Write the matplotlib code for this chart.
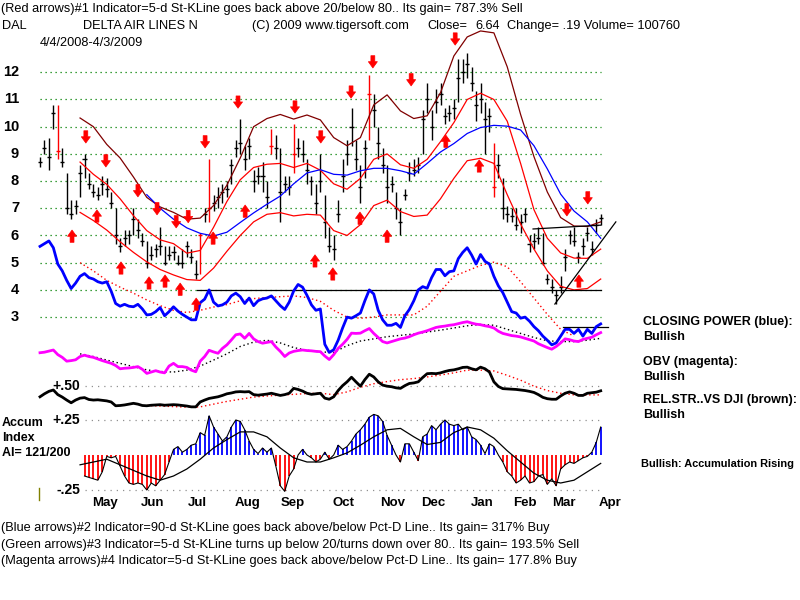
import matplotlib
matplotlib.use("Agg")
import matplotlib.pyplot as plt
from matplotlib.lines import Line2D
import numpy as np

nan = float("nan")

# ---------------- data (one bar = 2 trading days, 4/4/2008 - 4/3/2009) ----------------
close = [8.7, 9.2, 8.9, 10.5, 9.1, 8.7, 7.0, 6.8, 7.1, 8.3, 8.8, 7.9, 7.6, 7.5, 7.9, 7.7, 7.2, 6.0, 5.6, 5.9,
         6.0, 6.6, 6.2, 5.8, 5.0, 5.3, 5.5, 5.6, 5.0, 5.3, 5.4, 5.0, 5.0, 5.6, 5.2, 4.6, 6.0, 6.8, 7.0, 7.2,
         7.4, 7.6, 7.7, 8.6, 9.2, 9.4, 8.8, 9.3, 8.0, 8.2, 8.2, 7.4, 9.3, 9.2, 7.6, 7.9, 7.8, 9.0, 9.2, 9.0,
         8.4, 8.0, 7.2, 8.0, 6.5, 5.6, 5.5, 6.8, 8.2, 9.0, 10.0, 8.8, 7.8, 9.2, 11.2, 10.6, 9.4, 8.6, 7.8, 7.9,
         7.0, 6.5, 7.5, 8.3, 8.4, 8.6, 10.3, 11.0, 10.0, 10.9, 11.2, 10.4, 10.5, 10.7, 11.8, 12.0, 12.3, 11.6, 10.8, 11.0,
         10.3, 10.4, 7.8, 8.6, 7.0, 6.8, 6.7, 6.4, 6.5, 6.8, 5.7, 5.8, 5.9, 5.0, 4.4, 4.1, 3.8, 4.1, 5.2, 6.0,
         5.8, 5.2, 5.6, 6.1, 5.5, 6.4, 6.64]
high = [8.9, 9.5, 9.6, 10.8, 10.8, 9.2, 8.3, 7.3, 7.3, 8.6, 9.0, 8.3, 7.9, 7.8, 8.2, 8.1, 7.6, 7.0, 5.9, 6.2,
        6.2, 7.0, 6.6, 6.1, 5.8, 5.6, 5.7, 6.3, 5.6, 5.6, 5.6, 5.3, 5.5, 5.8, 5.5, 5.1, 6.1, 7.0, 8.8, 7.5,
        7.8, 7.9, 8.0, 8.8, 9.5, 10.3, 9.3, 9.6, 8.4, 8.5, 8.7, 8.0, 9.9, 9.7, 9.2, 8.2, 8.2, 10.1, 9.6, 9.5,
        8.8, 8.2, 7.9, 9.0, 7.5, 6.3, 6.0, 7.3, 8.8, 9.5, 10.7, 9.5, 8.6, 9.5, 11.9, 11.2, 10.0, 9.2, 8.6, 8.2,
        7.6, 7.0, 7.7, 8.7, 8.8, 8.9, 10.6, 11.6, 10.6, 11.4, 11.6, 10.7, 10.8, 11.0, 12.5, 12.5, 12.7, 12.2, 11.3, 11.6,
        10.9, 10.7, 9.4, 9.0, 8.1, 7.1, 7.0, 7.0, 6.8, 7.0, 6.0, 6.1, 6.3, 6.1, 4.6, 4.4, 4.0, 4.5, 5.5, 6.2,
        6.3, 5.4, 5.9, 6.3, 5.8, 6.6, 6.8]
low = [8.5, 9.0, 8.4, 9.9, 8.8, 8.5, 6.8, 6.6, 6.8, 7.4, 8.1, 7.7, 7.4, 7.3, 7.5, 7.4, 7.0, 5.7, 5.4, 5.6,
       5.7, 6.0, 5.9, 5.6, 4.8, 5.1, 5.2, 5.3, 4.9, 5.1, 5.1, 4.9, 4.8, 5.2, 5.0, 4.4, 4.6, 6.5, 6.5, 6.9,
       7.0, 7.2, 7.4, 7.9, 8.9, 9.0, 8.4, 8.8, 7.6, 7.9, 7.6, 7.0, 9.0, 8.8, 6.5, 7.6, 7.5, 8.3, 8.9, 8.7,
       7.9, 7.5, 6.8, 7.6, 5.9, 5.4, 5.1, 6.5, 7.6, 8.6, 9.3, 8.4, 7.2, 8.1, 9.5, 10.0, 8.8, 8.3, 7.2, 7.6,
       6.6, 6.0, 7.3, 8.0, 8.2, 8.3, 9.0, 10.5, 9.5, 10.5, 10.8, 10.1, 10.2, 10.3, 10.9, 11.6, 11.8, 11.3, 10.2, 10.5,
       9.0, 9.8, 7.4, 8.1, 6.6, 6.5, 6.5, 6.2, 6.1, 6.5, 5.4, 5.5, 5.7, 4.9, 4.2, 3.9, 3.5, 3.9, 4.7, 5.7,
       5.6, 5.0, 5.3, 5.8, 5.3, 6.1, 6.4]
red_bars = [4, 36, 38, 52, 57, 74, 102]

# closing power (blue), OBV (magenta), relative strength (black), drawn in the price frame
closing_power = [5.6, 5.7, 5.8, 5.55, 4.95, 4.7, 4.35, 4.05, 4.25, 4.5, 4.6, 4.45, 4.4, 4.3, 4.25, 4.3, 3.95, 3.5, 3.4, 3.47,
                 3.4, 3.38, 3.47, 3.3, 3.08, 3.1, 3.2, 3.35, 3.05, 3.2, 3.38, 3.22, 3.1, 3.0, 2.9, 2.9, 3.53, 3.66, 4.0, 3.55,
                 3.41, 3.45, 3.55, 3.78, 3.88, 3.75, 3.5, 3.7, 3.42, 3.6, 3.67, 3.7, 3.78, 3.6, 3.42, 3.28, 3.55, 3.96, 4.2, 4.1,
                 3.8, 3.45, 3.25, 3.3, 2.0, 1.7, 1.8, 2.15, 2.6, 3.0, 2.96, 3.05, 3.15, 3.6, 4.0, 3.85, 3.25, 2.9, 2.7, 2.7,
                 2.77, 2.62, 3.05, 3.28, 3.6, 4.0, 4.12, 4.06, 4.45, 4.75, 4.75, 4.52, 4.67, 4.7, 5.15, 5.38, 5.55, 5.28, 4.95, 5.3,
                 5.05, 4.95, 4.5, 4.15, 3.9, 3.55, 3.2, 3.15, 2.96, 3.0, 2.85, 2.65, 2.5, 2.3, 2.15, 1.98, 2.05, 2.3, 2.55, 2.55,
                 2.4, 2.55, 2.3, 2.55, 2.4, 2.65, 2.75]
obv = [1.69, 1.71, 1.75, 1.79, 1.62, 1.52, 1.38, 1.4, 1.43, 1.55, 1.6, 1.55, 1.52, 1.46, 1.4, 1.35, 1.3, 1.22, 1.1, 1.12,
       1.13, 1.15, 1.18, 1.08, 0.93, 0.98, 1.03, 0.98, 0.95, 1.2, 1.3, 1.18, 1.18, 1.15, 1.05, 0.99, 1.38, 1.55, 1.78, 1.72,
       1.67, 1.85, 1.98, 2.16, 2.35, 2.38, 2.22, 2.4, 2.2, 2.1, 2.04, 2.07, 2.1, 1.9, 1.74, 1.55, 1.68, 1.74, 1.77, 1.79,
       1.77, 1.76, 1.74, 1.73, 1.57, 1.44, 1.62, 1.85, 2.0, 2.18, 2.41, 2.4, 2.41, 2.5, 2.58, 2.4, 2.25, 2.1, 2.05, 2.1,
       2.15, 2.2, 2.23, 2.28, 2.35, 2.41, 2.45, 2.5, 2.56, 2.62, 2.65, 2.67, 2.7, 2.72, 2.76, 2.8, 2.83, 2.78, 2.74, 2.72,
       2.68, 2.65, 2.6, 2.48, 2.4, 2.36, 2.32, 2.3, 2.27, 2.22, 2.17, 2.12, 2.02, 1.95, 1.88, 1.82, 1.92, 2.05, 2.2, 2.17,
       2.12, 2.1, 2.18, 2.22, 2.26, 2.35, 2.43]
rel_strength = [0.07, 0.18, 0.27, 0.32, 0.15, 0.06, -0.05, -0.15, -0.05, 0.02, 0.04, -0.03, -0.05, -0.04, -0.06, -0.08, -0.12, -0.26, -0.25, -0.23,
                -0.2, -0.17, -0.2, -0.25, -0.26, -0.24, -0.23, -0.22, -0.24, -0.23, -0.22, -0.23, -0.25, -0.27, -0.3, -0.3, -0.12, -0.05, 0.01, 0.04,
                0.07, 0.12, 0.18, 0.21, 0.25, 0.26, 0.25, 0.26, 0.15, 0.13, 0.15, 0.17, 0.2, 0.16, 0.12, 0.15, 0.2, 0.38, 0.34, 0.28,
                0.2, 0.16, 0.18, 0.2, 0.02, -0.02, 0.07, 0.3, 0.48, 0.62, 0.79, 0.62, 0.46, 0.7, 0.9, 0.8, 0.62, 0.5, 0.46, 0.44,
                0.4, 0.38, 0.48, 0.56, 0.58, 0.62, 0.78, 0.92, 0.93, 0.92, 0.95, 1.0, 1.04, 1.06, 1.1, 1.15, 1.16, 1.1, 1.06, 1.16,
                1.1, 0.98, 0.62, 0.45, 0.37, 0.36, 0.35, 0.34, 0.32, 0.3, 0.27, 0.23, 0.15, 0.05, 0.0, -0.02, -0.02, 0.1, 0.2, 0.25,
                0.2, 0.12, 0.12, 0.2, 0.22, 0.24, 0.29]

# accumulation index (one value per bar)
accum = [nan] * 10 + [
    -0.15, -0.16, -0.17, -0.18, -0.12, -0.01, -0.02, -0.01, -0.08, -0.15,
    -0.20, -0.21, -0.20, -0.21, -0.25, -0.20, -0.22, -0.18, -0.14, -0.05,
    0.04, 0.06, 0.02, 0.04, 0.07, 0.08, 0.16, 0.14, 0.28, 0.20,
    0.15, 0.10, 0.13, 0.20, 0.25, 0.24, 0.18, 0.10, 0.04, 0.01,
    0.05, 0.02, 0.05, -0.08, -0.22, -0.26, -0.15, -0.10, 0.00, 0.04,
    0.00, -0.02, -0.05, -0.03, 0.02, -0.03, 0.00, 0.07, 0.04, 0.06,
    0.10, 0.15, 0.18, 0.22, 0.27, 0.29, 0.28, 0.24, 0.14, 0.07,
    0.00, -0.05, 0.08, 0.08, 0.02, -0.04, 0.13, 0.15, 0.21, 0.18,
    0.22, 0.25, 0.22, 0.21, 0.22, 0.18, 0.20, 0.13, 0.11, 0.07,
    0.01, 0.08, 0.06, 0.00, -0.05, -0.12, -0.15, -0.20, -0.18, -0.15,
    -0.20, -0.19, -0.15, -0.14, -0.21, -0.17, -0.22, -0.10, -0.07, -0.05,
    -0.06, -0.04, -0.02, -0.01, 0.02, 0.09, 0.20]

# smoothed lines, one value every 3 bars
upper_band = [nan, nan, nan, 8.70, 8.25, 7.88, 7.35, 6.73, 6.18, 5.84, 5.70, 5.35, 5.45, 6.30, 7.25, 8.05, 8.50, 8.62, 8.65, 8.50,
              8.65, 8.40, 7.90, 7.70, 8.10, 8.80, 9.00, 8.60, 8.47, 8.80, 9.45, 10.15, 11.00, 11.23, 11.00, 10.20, 8.65, 6.95, 5.90, 5.36,
              5.17, 5.16, 5.50]
lower_band = [nan, nan, nan, 6.85, 6.55, 6.20, 5.77, 5.38, 5.03, 4.75, 4.55, 4.38, 4.35, 4.80, 5.42, 6.00, 6.50, 6.78, 6.84, 6.72,
              6.78, 6.75, 6.18, 6.00, 6.40, 7.10, 7.30, 6.88, 6.70, 6.75, 7.35, 8.10, 8.75, 8.84, 8.65, 7.50, 6.42, 5.50, 4.70, 4.13,
              4.00, 4.05, 4.40]
outer_band = [nan, nan, nan, 10.32, 10.00, 9.35, 8.85, 8.15, 7.40, 7.05, 6.85, 6.60, 6.64, 7.10, 7.85, 8.85, 10.00, 10.30, 10.45, 10.28,
              10.43, 10.25, 9.60, 9.30, 9.60, 10.80, 11.17, 10.58, 10.30, 10.40, 11.25, 12.60, 13.30, 13.52, 13.45, 12.20, 10.45, 8.90, 7.60, 6.66,
              6.35, 6.33, 6.50]
ma_50 = [nan] * 8 + [7.50, 7.00, 6.60, 6.28, 6.08, 5.98, 6.12, 6.48, 6.83, 7.15, 7.45, 7.90, 8.30, 8.42, 8.25, 8.22, 8.38, 8.47,
                     8.47, 8.38, 8.25, 8.65, 9.07, 9.38, 9.75, 9.97, 10.05, 10.02, 9.88, 9.30, 8.45, 7.52, 6.90, 6.50, 5.90]
cp_ma = [nan, nan, nan, 5.00, 4.70, 4.35, 4.10, 3.88, 3.63, 3.42, 3.25, 3.17, 3.25, 3.37, 3.46, 3.60, 3.68, 3.72, 3.75, 3.78,
         3.72, 3.58, 3.25, 3.00, 2.96, 3.00, 3.08, 3.08, 3.08, 3.40, 3.95, 4.50, 4.70, 4.90, 5.02, 4.85, 4.30, 3.70, 3.10, 2.55,
         2.30, nan, nan]
obv_ma = [nan, nan, nan, 1.65, 1.55, 1.42, 1.30, 1.18, 1.06, 1.00, 0.98, 1.05, 1.20, 1.42, 1.65, 1.92, 2.08, 2.15, 2.05, 1.88,
          1.78, 1.72, 1.70, 1.95, 2.12, 2.20, 2.28, 2.33, 2.38, 2.45, 2.52, 2.60, 2.68, 2.73, 2.70, 2.55, 2.40, 2.25, 2.13, 2.10,
          2.10, 2.15, 2.22]
rs_ma = [nan] * 8 + [-0.25, -0.27, -0.29, -0.31, -0.30, -0.20, -0.10, -0.02, 0.06, 0.10, 0.13, 0.16, 0.19, 0.20, 0.15, 0.25, 0.42,
                     0.55, 0.63, 0.70, 0.74, 0.80, 0.87, 0.95, 1.05, 1.05, 1.02, 0.86, 0.68, 0.46, 0.30, 0.20, 0.14, 0.14, 0.14]
accum_ma = [nan, nan, nan, -0.07, -0.05, -0.03, -0.07, -0.11, -0.15, -0.18, -0.15, -0.10, -0.03, 0.05, 0.11, 0.165, 0.165, 0.13, 0.05, -0.02,
            -0.05, -0.05, -0.02, 0.015, 0.07, 0.13, 0.18, 0.19, 0.13, 0.075, 0.09, 0.16, 0.20, 0.18, 0.12, 0.03, -0.05, -0.13, -0.18, -0.20,
            -0.18, -0.12, -0.06]

# red signal arrows: bar position and arrow tip price
down_pos = [10.3, 14.8, 22.0, 26.3, 30.6, 33.3, 37.1, 44.5, 57.3, 63.1, 69.9, 74.8, 83.4, 93.3, 118.4, 123.1]
down_tip = [9.40, 8.52, 7.42, 6.76, 6.28, 6.47, 9.22, 10.68, 10.50, 9.40, 11.05, 12.16, 11.50, 13.00, 6.72, 7.16]
up_pos = [7.2, 12.8, 18.2, 24.5, 28.1, 31.5, 35.1, 38.9, 46.1, 61.8, 65.8, 71.9, 78.0, 91.2, 98.7, 121.1]
up_tip = [6.20, 6.94, 5.03, 4.48, 4.55, 4.25, 3.70, 6.13, 7.12, 5.29, 4.81, 6.86, 6.20, 9.69, 8.78, 4.55]

# hand drawn lines (bar position, price)
support_line = ([35.3, 126.0], [4.0, 4.0])
resist_line = ([110.8, 126.0], [6.24, 6.38])
rising_line = ([115.7, 129.4], [3.48, 6.50])
cp_line = ([117.5, 127.6], [2.64, 2.64])

price_levels = [3, 4, 5, 6, 7, 8, 9, 10, 11, 12]
month_names = ["May", "Jun", "Jul", "Aug", "Sep", "Oct", "Nov", "Dec", "Jan", "Feb", "Mar", "Apr"]
month_pos = [14.6, 25.2, 35.3, 46.7, 56.9, 68.1, 79.3, 88.3, 99.3, 109.0, 117.8, 128.1]

# ---------------- layout ----------------
W, H = 800.0, 600.0
X0, DX = 40.0, 4.45      # pixel of first bar, pixels per bar
Y12, DY = 72.3, 27.2     # pixel of price 12, pixels per price unit
AI0, AIS = 455.0, 140.0  # pixel of accum zero, pixels per accum unit

fig = plt.figure(figsize=(8, 6), dpi=100)
fig.patch.set_facecolor("white")


def px_axes(x0, y0, x1, y1):
    a = fig.add_axes([x0 / W, 1 - y1 / H, (x1 - x0) / W, (y1 - y0) / H])
    a.set_xlim((x0 - X0) / DX, (x1 - X0) / DX)
    a.axis("off")
    return a


ax = px_axes(38, 20, 640, 415)
ax.set_ylim(12 - (415 - Y12) / DY, 12 + (Y12 - 20) / DY)
ai = px_axes(38, 405, 640, 505)
ai.set_ylim(-(505 - AI0) / AIS, (AI0 - 405) / AIS)

bars = np.arange(len(close))
sk = np.arange(0, len(close), 3)

FONT = ["Liberation Sans", "DejaVu Sans"]

# grid
ax.hlines(price_levels, 0, bars[-1], colors="#008000", linestyles=(0, (1, 3)), lw=0.9)
ax.hlines([0.47], 10, bars[-1], colors="#909090", linestyles=(0, (1, 4)), lw=0.9)
ai.hlines([0.25, -0.25], 10, bars[-1], colors="#909090", linestyles=(0, (1, 4)), lw=0.9)
for p in price_levels:
    ax.text((19 - X0) / DX, p, str(p), ha="right", va="center", fontsize=10.5,
            fontweight="bold", family=FONT)

# price bars
cols = ["red" if i in red_bars else "black" for i in bars]
ax.vlines(bars, low, high, colors=cols, lw=1.0)
ax.hlines(close, bars - 0.45, bars + 0.45, colors=cols, lw=1.0)

# bands and average
ax.plot(sk, outer_band, color="#800000", lw=0.9)
ax.plot(sk, upper_band, color="#ff0000", lw=0.9)
ax.plot(sk, lower_band, color="#ff0000", lw=0.9)
ax.plot(sk, ma_50, color="#0000ff", lw=0.9)

# drawn lines
for xs, ys in (support_line, resist_line, rising_line, cp_line):
    ax.plot(xs, ys, color="black", lw=0.9)

# indicators
ax.plot(sk, cp_ma, color="#ff0000", lw=1.0, ls=(0, (1, 2)))
ax.plot(sk, obv_ma, color="black", lw=1.0, ls=(0, (1, 2)))
ax.plot(sk, rs_ma, color="#ff0000", lw=1.0, ls=(0, (1, 2)))
ax.plot(bars, closing_power, color="#0000ff", lw=2.0)
ax.plot(bars, obv, color="#ff00ff", lw=2.0)
ax.plot(bars, rel_strength, color="black", lw=2.0)

# arrows
astyle = "simple,head_length=0.45,head_width=0.65,tail_width=0.28"
for x, t in zip(down_pos, down_tip):
    ax.annotate("", xy=(x, t), xytext=(x, t + 0.45),
                arrowprops=dict(arrowstyle=astyle, fc="red", ec="red", lw=0.5,
                                shrinkA=0, shrinkB=0, mutation_scale=10))
for x, t in zip(up_pos, up_tip):
    ax.annotate("", xy=(x, t), xytext=(x, t - 0.45),
                arrowprops=dict(arrowstyle=astyle, fc="red", ec="red", lw=0.5,
                                shrinkA=0, shrinkB=0, mutation_scale=10))

# accumulation index
acc = np.array(accum)
ai.vlines(bars, 0, acc, colors=np.where(acc >= 0, "#0000ff", "#ff0000"), lw=1.3)
ai.plot(bars, acc, color="black", lw=0.8)
ai.plot(sk, accum_ma, color="black", lw=0.9)
for x, n in zip(month_pos, month_names):
    ai.text(x, -(503 - AI0) / AIS, n, ha="center", va="center", fontsize=9.5,
            fontweight="bold", family=FONT)
ai.text((80 - X0) / DX, 0.25, "+.25", ha="right", va="center", fontsize=10, fontweight="bold", family=FONT)
ai.text((80 - X0) / DX, -0.25, "-.25", ha="right", va="center", fontsize=10, fontweight="bold", family=FONT)
ax.text((80 - X0) / DX, 0.47, "+.50", ha="right", va="center", fontsize=10, fontweight="bold", family=FONT)

fig.add_artist(Line2D([39 / W, 39 / W], [1 - 488 / H, 1 - 500 / H], color="#808000", lw=1))


def ftext(x, y, s, **kw):
    fig.text(x / W, 1 - y / H, s, va="center", ha="left", **kw)


hdr = dict(fontsize=9.2, family=FONT)
ftext(1, 9, "(Red arrows)#1 Indicator=5-d St-KLine goes back above 20/below 80.. Its gain= 787.3% Sell", **hdr)
ftext(2, 26, "DAL", **hdr)
ftext(83, 26, "DELTA AIR LINES N", **hdr)
ftext(252, 26, "(C) 2009 www.tigersoft.com", **hdr)
ftext(427, 26, "Close=", **hdr)
ftext(475, 26, "6.64", **hdr)
ftext(507, 26, "Change= .19 Volume= 100760", **hdr)
ftext(40, 43, "4/4/2008-4/3/2009", **hdr)
ftext(1, 528, "(Blue arrows)#2 Indicator=90-d St-KLine goes back above/below Pct-D Line.. Its gain= 317% Buy", **hdr)
ftext(1, 545, "(Green arrows)#3 Indicator=5-d St-KLine turns up below 20/turns down over 80.. Its gain= 193.5% Sell", **hdr)
ftext(1, 561, "(Magenta arrows)#4 Indicator=5-d St-KLine goes back above/below Pct-D Line.. Its gain= 177.8% Buy", **hdr)

lab = dict(fontsize=9.0, fontweight="bold", family=FONT)
ftext(2, 423, "Accum", **lab)
ftext(2, 438, "Index", **lab)
ftext(2, 453, "AI= 121/200", **lab)
ftext(643, 322, "CLOSING POWER (blue):", **lab)
ftext(643, 337, "Bullish", **lab)
ftext(643, 362, "OBV (magenta):", **lab)
ftext(643, 377, "Bullish", **lab)
ftext(643, 400, "REL.STR..VS DJI (brown):", **lab)
ftext(643, 415, "Bullish", **lab)
ftext(641, 464, "Bullish: Accumulation Rising", fontsize=7.9, fontweight="bold", family=FONT)

fig.savefig("out.png", dpi=100, facecolor="white")
